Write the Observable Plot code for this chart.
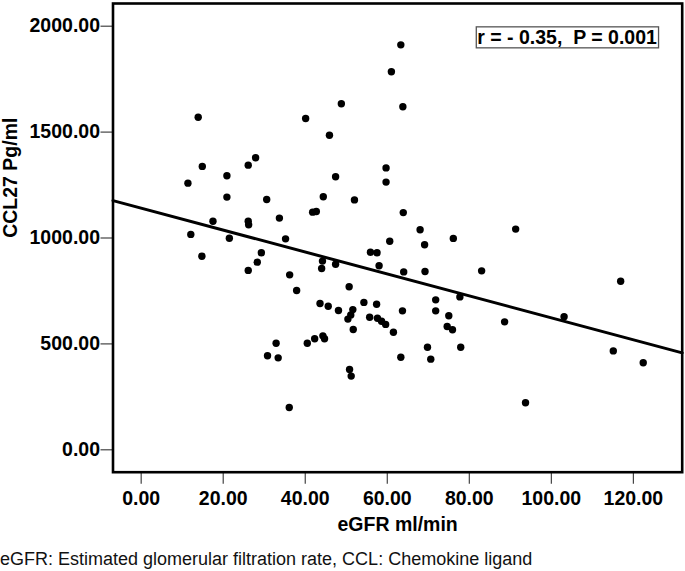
<!DOCTYPE html>
<html>
<head>
<meta charset="utf-8">
<script src="https://cdn.jsdelivr.net/npm/d3@7"></script>
<script src="https://cdn.jsdelivr.net/npm/@observablehq/plot@0.6"></script>
<style>
  body { margin: 0; background: #fff; }
  #chart svg { display: block; }
  #caption { font-family: "Liberation Sans", Arial, sans-serif; font-size: 18px; line-height: 28px; color: #111; margin: 0; padding: 0; white-space: nowrap; }
</style>
</head>
<body>
<div id="chart"></div>
<div id="caption"></div>
<script>
// eGFR (ml/min) for each patient
const egfr = [13.9, 40.1, 48.8, 45.9, 14.9, 27.9, 26.1, 11.4, 20.9, 47.4,
  20.9, 30.6, 44.4, 41.8, 42.7, 17.5, 26.1, 26.2, 33.7, 12.1,
  21.5, 35.2, 29.3, 14.8, 28.3, 44.2, 47.4, 44.0, 26.1, 36.2,
  37.9, 50.7, 63.3, 61.0, 63.8, 59.7, 59.7, 52.0, 63.9, 68.0,
  60.6, 69.1, 76.1, 55.9, 57.5, 58.0, 64.0, 69.2, 83.0, 71.8,
  77.7, 43.6, 45.6, 48.1, 51.6, 51.1, 50.4, 54.3, 57.4, 55.7,
  57.6, 58.6, 59.6, 51.7, 61.5, 63.7, 71.8, 75.0, 74.6, 75.9,
  69.8, 77.9, 70.6, 63.3, 32.9, 30.8, 33.4, 40.5, 42.3, 44.3,
  44.7, 50.8, 51.2, 36.1, 91.3, 116.9, 88.6, 103.1, 115.1, 122.4,
  93.7];
// CCL27 (Pg/ml) for each patient
const ccl27 = [1570, 1564, 1634, 1485, 1338, 1379, 1344, 1259, 1294, 1289,
  1193, 1182, 1195, 1122, 1125, 1079, 1079, 1062, 1094, 1017,
  999, 996, 930, 914, 886, 891, 876, 856, 847, 826,
  752, 770, 1912, 1785, 1620, 1331, 1264, 1180, 1120, 1039,
  985, 968, 998, 933, 930, 869, 840, 842, 845, 708,
  722, 691, 678, 658, 662, 637, 617, 696, 687, 626,
  621, 607, 592, 568, 555, 656, 656, 633, 582, 567,
  484, 484, 428, 437, 503, 444, 434, 503, 524, 538,
  524, 379, 348, 200, 1042, 796, 604, 628, 467, 411,
  222];

const xTicks = [0, 20, 40, 60, 80, 100, 120];
const yTicks = [0, 500, 1000, 1500, 2000];
const xDomain = [-6.87, 131.9];
const yDomain = [-105.8, 2107.2];
const xTitle = "eGFR ml/min";
const yTitle = "CCL27 Pg/ml";
const statText = "r = - 0.35,\u00a0 P = 0.001";
const captionText = "eGFR: Estimated glomerular filtration rate, CCL: Chemokine ligand";
// fit line (as drawn in the reference)
const fitIntercept = 1141;
const fitSlope = -5.18;

const points = egfr.map((x, i) => ({x, y: ccl27[i]}));
const fitLine = xDomain.map(x => ({x, y: fitIntercept + fitSlope * x}));

const font = "'Liberation Sans', Arial, sans-serif";
const fs = 19.5;
const fmt = d3.format(".2f");

const chart = Plot.plot({
  width: 685,
  height: 545,
  marginLeft: 112.5,
  marginRight: 3.3,
  marginTop: 3,
  marginBottom: 73.3,
  style: {fontFamily: font, fontSize: fs + "px", fontWeight: "bold", color: "#000", background: "#fff"},
  x: {domain: xDomain, label: null},
  y: {domain: yDomain, label: null},
  marks: [
    Plot.axisX(xTicks, {tickSize: 12, tickPadding: 7, tickFormat: fmt, stroke: "#444", strokeWidth: 1.2, fill: "#000", fontSize: fs, fontWeight: "bold", label: null}),
    Plot.axisY(yTicks, {tickSize: 12, tickPadding: 1, tickFormat: fmt, stroke: "#444", strokeWidth: 1.2, fill: "#000", fontSize: fs, fontWeight: "bold", label: null}),
    Plot.line(fitLine, {x: "x", y: "y", stroke: "#000", strokeWidth: 3}),
    Plot.dot(points, {x: "x", y: "y", r: 3.7, fill: "#000", stroke: "none"}),
    Plot.frame({stroke: "#000", strokeWidth: 2.6}),
    Plot.text([xTitle], {frameAnchor: "bottom", dy: 58.5, fontSize: fs, fontWeight: "bold", fill: "#000"}),
    Plot.text([yTitle], {frameAnchor: "left", rotate: -90, dx: -102.5, fontSize: fs, fontWeight: "bold", fill: "#000"}),
    Plot.text([statText], {frameAnchor: "top-right", textAnchor: "end", dx: -25.3, dy: 27, fontSize: fs, fontWeight: "bold", fill: "#000", className: "stat"})
  ]
});

document.getElementById("chart").appendChild(chart);
document.getElementById("caption").textContent = captionText;

// box around the statistics label
const statEl = chart.querySelector("g.stat text") || chart.querySelector(".stat text");
if (statEl) {
  const bb = statEl.getBBox();
  const g = statEl.parentNode;
  const rect = document.createElementNS("http://www.w3.org/2000/svg", "rect");
  rect.setAttribute("x", bb.x - 1);
  rect.setAttribute("y", bb.y + 0.5);
  rect.setAttribute("width", bb.width + 2.5);
  rect.setAttribute("height", bb.height - 1);
  rect.setAttribute("fill", "#fff");
  rect.setAttribute("stroke", "#555");
  rect.setAttribute("stroke-width", 1.3);
  rect.setAttribute("transform", statEl.getAttribute("transform") || "");
  g.insertBefore(rect, statEl);
}
</script>
</body>
</html>
